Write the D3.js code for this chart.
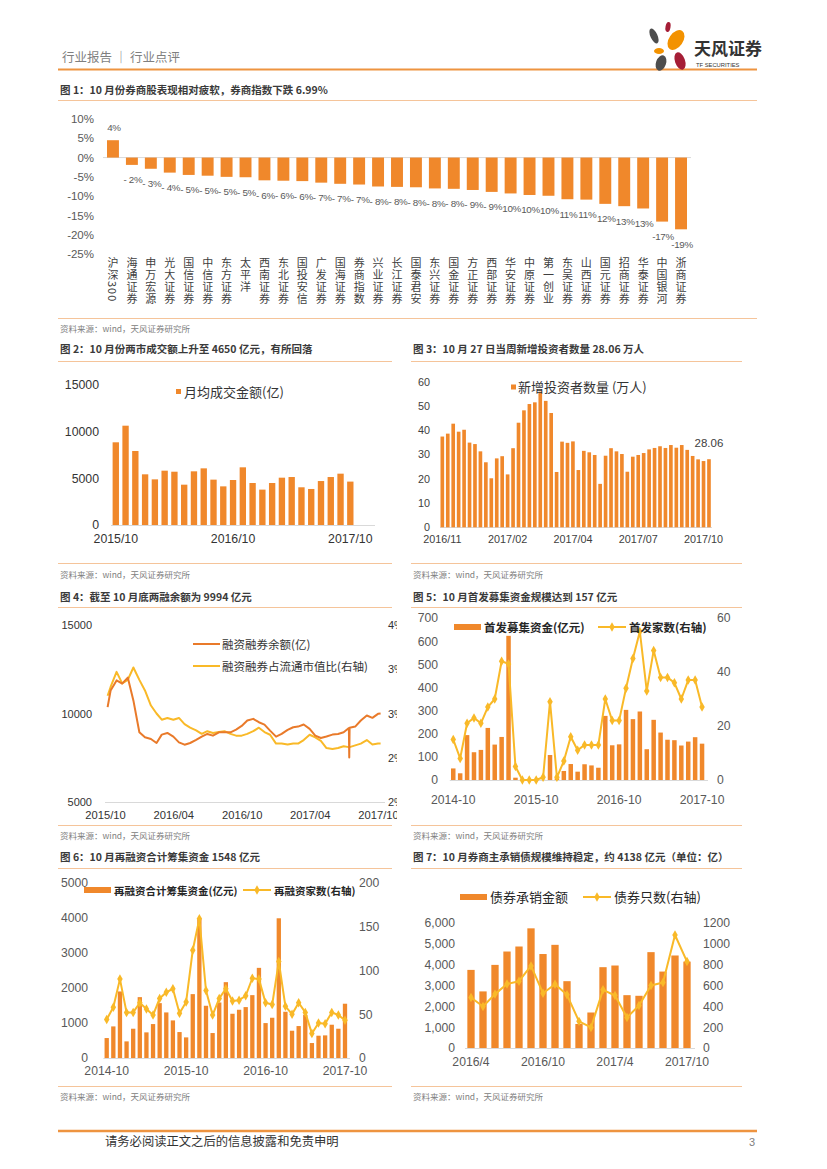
<!DOCTYPE html>
<html>
<head>
<meta charset="utf-8">
<title>行业点评</title>
<script src="https://cdn.jsdelivr.net/npm/d3@7"></script>
<style>
  body { margin: 0; background: #fff; }
  svg { display: block; }
</style>
</head>
<body>
<svg id="page" width="827" height="1169"></svg>
<script>
var NUM = "'Liberation Sans', Arial, sans-serif";
var CN = "'Noto Sans CJK SC', 'Noto Sans', sans-serif";
var ORANGE = '#F0882B', LINE_ORANGE = '#E97A2A', YELLOW = '#F9B928', RULE = '#F5C49A';

// fig 1: October change by broker
var brokers = ['沪深300','海通证券','申万宏源','光大证券','国信证券','中信证券','东方证券','太平洋','西南证券','东北证券',
  '国投安信','广发证券','国海证券','券商指数','兴业证券','长江证券','国泰君安','东兴证券','国金证券','方正证券',
  '西部证券','华安证券','中原证券','第一创业','东吴证券','山西证券','国元证券','招商证券','华泰证券','中国银河','浙商证券'];
var brokerChange = [4.5,-1.9,-2.9,-3.9,-4.5,-4.7,-5.0,-5.1,-5.9,-6.0,-6.1,-6.5,-6.8,-6.99,-7.5,-7.6,-7.7,-8.0,-8.1,-8.4,
  -8.9,-9.3,-9.7,-9.9,-10.8,-10.9,-12.0,-12.6,-13.2,-16.6,-18.6];
var brokerLabels = ['4%','- 2%','- 3%','- 4%','- 5%','- 5%','- 5%','- 5%','- 6%','- 6%','- 6%','- 7%','- 7%','- 7%',
  '- 8%','- 8%','- 8%','- 8%','- 8%','- 9%','- 9%','10%','10%','10%','11%','11%','12%','13%','13%','-17%','-19%'];
var pctTicks = [10,5,0,-5,-10,-15,-20,-25];

// fig 2: monthly average turnover
var turnoverMonths = d3.timeMonth.range(new Date(2015,9,1), new Date(2017,10,1)).map(d3.timeFormat('%Y/%m'));
var turnover = [8860,10640,7930,5430,4890,5820,5710,4320,5750,6070,4860,4140,4820,6180,4500,3790,4500,5070,5140,4040,
  3860,4710,5140,5500,4650];
var turnoverTicks = ['2015/10','2016/10','2017/10'];

// fig 3: weekly new investors
var newInvestors = [37.4,38.6,42.7,39.4,40.2,34.9,34.3,31.3,26.8,20.2,28.4,29.3,21.8,32.6,43.1,48.2,50.8,51.5,55.9,52.1,
  47.1,22.8,35.3,34.8,35.4,23.6,31.5,30.9,29.8,17.9,29.5,32.6,31.3,30.2,22.9,29.1,29.8,30.6,32.1,32.7,
  33.4,32.7,33.9,32.8,33.9,31.9,29.4,28.0,27.3,28.06];
var weekTicks = [[0,'2016/11'],[12,'2017/02'],[24,'2017/04'],[36,'2017/07'],[48,'2017/10']];

// fig 4: margin balance
var marginDates = ['2015-10-08','2015-10-16','2015-11-01','2015-11-16','2015-12-01','2015-12-16',
  '2016-01-01','2016-01-16','2016-02-01','2016-02-16','2016-03-01','2016-03-16',
  '2016-04-01','2016-04-16','2016-05-01','2016-05-16','2016-06-01','2016-06-16',
  '2016-07-01','2016-07-16','2016-08-01','2016-08-16','2016-09-01','2016-09-16',
  '2016-10-01','2016-10-16','2016-11-01','2016-11-16','2016-12-01','2016-12-16',
  '2017-01-01','2017-01-16','2017-02-01','2017-02-16','2017-03-01','2017-03-16',
  '2017-04-01','2017-04-16','2017-05-01','2017-05-16','2017-06-01','2017-06-16',
  '2017-07-01','2017-07-15','2017-07-16','2017-07-17','2017-08-01','2017-08-16',
  '2017-09-01','2017-09-16','2017-10-01','2017-10-08'];
var marginBalance = [10360,11300,11870,11690,12030,10740,
  8940,8655,8560,8333,8807,8900,
  8693,8371,8239,8333,8504,8693,
  8845,8750,8939,8939,8939,9090,
  9299,9602,9697,9508,9375,9034,
  8693,8845,9072,9223,9261,9375,
  9129,8750,8617,8700,8807,8845,
  8939,9180,7520,9200,9261,9602,
  9886,9754,9981,9994];
var marginRatio = [3.20,3.30,3.47,3.34,3.38,3.52,
  3.38,3.26,3.09,3.00,2.93,2.95,
  2.93,2.95,2.88,2.84,2.81,2.77,
  2.80,2.78,2.79,2.80,2.77,2.75,
  2.75,2.77,2.80,2.84,2.79,2.76,
  2.66,2.66,2.65,2.66,2.66,2.70,
  2.76,2.73,2.69,2.61,2.60,2.61,
  2.63,2.62,2.62,2.62,2.64,2.66,
  2.70,2.65,2.66,2.66];
var marginTicks = ['2015-10-01','2016-04-01','2016-10-01','2017-04-01','2017-10-01'];
var ratioTickLabels = ['2%','2%','3%','3%','4%'];

// fig 5: IPO funds and count
var months36 = d3.timeMonth.range(new Date(2014,9,1), new Date(2017,10,1)).map(d3.timeFormat('%Y-%m'));
var ipoFunds = [50,29,194,120,130,225,153,186,623,10,0,0,0,1,108,7,39,69,36,68,
  63,53,277,150,154,303,263,296,133,260,205,174,172,149,166,185,157];
var ipoCount = [15,8,21,23,21,27,30,44,43,5,0,0,0,1,29,1,7,16,11,13,
  13,13,30,22,22,34,45,55,33,48,38,38,36,30,37,37,27];
var yearTicks = ['2014-10','2015-10','2016-10','2017-10'];

// fig 6: refinancing
var refiFunds = [569,901,1898,474,835,1736,731,968,1565,1300,1072,740,588,1822,3960,1490,712,1584,2163,1262,
  1376,1452,1793,2571,996,1148,3985,1319,778,911,1233,427,636,645,949,835,1548];
var refiCount = [44,58,90,52,52,63,56,49,68,75,79,51,64,123,159,77,49,68,79,65,
  66,71,91,90,63,61,110,59,50,63,52,28,40,39,52,49,43];

// fig 7: bond underwriting
var bondMonths = d3.timeMonth.range(new Date(2016,3,1), new Date(2017,10,1)).map(d3.timeFormat('%Y/%-m'));
var bondAmount = [3740,2710,3980,4620,4860,5730,4500,4940,3200,1150,1700,3870,3950,2530,2500,4590,3660,4430,4138];
var bondCount = [484,398,516,614,640,786,525,611,509,255,197,557,503,293,407,598,627,1082,828];
var bondTicks = ['2016/4','2016/10','2017/4','2017/10'];

var svg = d3.select('#page');
var plain = function(d){ return String(d); };

function label(g, x, y, str, size, fill, opts) {
  opts = opts || {};
  return g.append('text').attr('x', x).attr('y', y).text(str)
    .attr('font-size', size).attr('fill', fill)
    .attr('font-family', opts.family || CN)
    .attr('font-weight', opts.weight || 'normal')
    .attr('text-anchor', opts.anchor || 'start');
}

function rule(x1, x2, y, color, w) {
  svg.append('line').attr('x1', x1).attr('x2', x2).attr('y1', y).attr('y2', y)
    .attr('stroke', color).attr('stroke-width', w);
}

function tidy(g, size, fill) {
  g.select('.domain').remove();
  g.selectAll('.tick line').remove();
  g.selectAll('text').attr('font-size', size).attr('fill', fill).attr('font-family', NUM);
}

function figTitle(x, y, str) { label(svg, x, y, str, 10.5, '#3a3a3a', {weight: 'bold'}); }
function source(x, y) { label(svg, x, y, '资料来源：wind，天风证券研究所', 8.5, '#808080'); }

function diamond(g, cx, cy, color) {
  g.append('path').attr('d', d3.symbol(d3.symbolDiamond, 26)())
    .attr('transform', 'translate(' + cx + ',' + cy + ')').attr('fill', color);
}

// ---------- page header ----------
label(svg, 62, 62, '行业报告 ｜ 行业点评', 12.5, '#7f7f7f');
rule(58, 757, 69.5, '#EE9440', 2);
var logo = svg.append('g');
[[654,36,3.5,8,-25,'#4d4d4d'],[676,40,7,11,35,'#F39200'],[659,51,5,3,0,'#F39200'],
 [661,63,5,8,20,'#4d4d4d'],[680,61,5,9,-20,'#A51E36'],[668,27,2.5,5,10,'#A51E36']].forEach(function(p){
  logo.append('ellipse').attr('rx', p[2]).attr('ry', p[3]).attr('fill', p[5])
    .attr('transform', 'translate(' + p[0] + ',' + p[1] + ') rotate(' + p[4] + ')');
});
label(svg, 694, 55, '天风证券', 17, '#333', {weight: 'bold'});
label(svg, 696, 66.5, 'TF SECURITIES', 5.8, '#333', {family: NUM});

// ---------- fig 1 ----------
figTitle(60, 94, '图 1：10 月份券商股表现相对疲软，券商指数下跌 6.99%');
rule(58, 757, 100.5, RULE, 1);
(function(){
  var g = svg.append('g');
  var x = d3.scaleBand().domain(brokers).range([103.5, 690.5]).paddingInner(0.37).paddingOuter(0.185);
  var y = d3.scaleLinear().domain([-25, 10]).range([254, 119]);
  g.append('line').attr('x1', 103).attr('x2', 691).attr('y1', y(0)).attr('y2', y(0)).attr('stroke', '#d9d9d9');
  g.selectAll('rect.bar').data(brokerChange).join('rect').attr('class', 'bar')
    .attr('x', function(d, i){ return x(brokers[i]); }).attr('width', x.bandwidth())
    .attr('y', function(d){ return y(Math.max(0, d)); })
    .attr('height', function(d){ return Math.abs(y(d) - y(0)); })
    .attr('fill', ORANGE);
  g.selectAll('text.val').data(brokerChange).join('text').attr('class', 'val')
    .attr('x', function(d, i){ return x(brokers[i]) + x.bandwidth() / 2 + 1; })
    .attr('y', function(d){ return d >= 0 ? y(d) - 9 : y(d) + 18.5; })
    .attr('text-anchor', 'middle').attr('font-size', 9.8).attr('fill', '#595959').attr('font-family', NUM)
    .attr('letter-spacing', -0.3)
    .text(function(d, i){ return brokerLabels[i]; });
  var ax = g.append('g').attr('transform', 'translate(94,0)')
    .call(d3.axisLeft(y).tickValues(pctTicks).tickSize(0).tickPadding(0).tickFormat(function(d){ return d + '%'; }));
  tidy(ax, 11.5, '#595959');
  g.selectAll('text.cat').data(brokers).join('text').attr('class', 'cat')
    .attr('x', function(d){ return x(d) + x.bandwidth() / 2; }).attr('y', 257)
    .attr('writing-mode', 'vertical-rl').attr('font-size', 11).attr('letter-spacing', 1)
    .attr('fill', '#404040').attr('font-family', CN)
    .text(function(d){ return d; });
})();
rule(58, 757, 318.5, RULE, 1);
source(60, 332);

// ---------- fig 2 ----------
figTitle(60, 353, '图 2：10 月份两市成交额上升至 4650 亿元，有所回落');
rule(58, 392, 361.5, RULE, 1);
(function(){
  var g = svg.append('g');
  var x = d3.scaleBand().domain(turnoverMonths).range([110.9, 355.2]).paddingInner(0.35).paddingOuter(0.175);
  var y = d3.scaleLinear().domain([0, 15000]).range([525, 385]);
  g.append('line').attr('x1', 111).attr('x2', 375).attr('y1', 525.5).attr('y2', 525.5).attr('stroke', '#d9d9d9');
  g.selectAll('rect').data(turnover).join('rect')
    .attr('x', function(d, i){ return x(turnoverMonths[i]); }).attr('width', x.bandwidth())
    .attr('y', function(d){ return y(d); }).attr('height', function(d){ return y(0) - y(d); })
    .attr('fill', ORANGE);
  var ay = g.append('g').attr('transform', 'translate(99,0)')
    .call(d3.axisLeft(y).tickValues([0, 5000, 10000, 15000]).tickSize(0).tickPadding(0).tickFormat(plain));
  tidy(ay, 12.3, '#333');
  var ax = g.append('g').attr('transform', 'translate(0,525)')
    .call(d3.axisBottom(x).tickValues(turnoverTicks).tickSize(0).tickPadding(9.5));
  tidy(ax, 12.3, '#333');
  g.append('rect').attr('x', 176).attr('y', 389).attr('width', 5).attr('height', 5).attr('fill', ORANGE);
  label(g, 184, 396.5, '月均成交金额(亿)', 13, '#333');
})();
rule(58, 392, 563.5, RULE, 1);
source(60, 578);

// ---------- fig 3 ----------
figTitle(413, 353, '图 3：10 月 27 日当周新增投资者数量 28.06 万人');
rule(411, 742, 361.5, RULE, 1);
(function(){
  var g = svg.append('g');
  var idx = d3.range(newInvestors.length);
  var x = d3.scaleBand().domain(idx).range([439.6, 711.7]).paddingInner(0.33).paddingOuter(0.165);
  var y = d3.scaleLinear().domain([0, 60]).range([527.3, 381.7]);
  g.append('line').attr('x1', 440).attr('x2', 712).attr('y1', 527.5).attr('y2', 527.5).attr('stroke', '#d9d9d9');
  g.selectAll('rect').data(newInvestors).join('rect')
    .attr('x', function(d, i){ return x(i); }).attr('width', x.bandwidth())
    .attr('y', function(d){ return y(d); }).attr('height', function(d){ return y(0) - y(d); })
    .attr('fill', ORANGE);
  var ay = g.append('g').attr('transform', 'translate(430,0)')
    .call(d3.axisLeft(y).tickValues([0, 10, 20, 30, 40, 50, 60]).tickSize(0).tickPadding(0));
  tidy(ay, 10.8, '#404040');
  var ax = g.append('g').attr('transform', 'translate(0,527)')
    .call(d3.axisBottom(x).tickValues(weekTicks.map(function(t){ return t[0]; })).tickSize(0).tickPadding(8.5)
      .tickFormat(function(d){ return weekTicks.find(function(t){ return t[0] === d; })[1]; }));
  tidy(ax, 10.8, '#404040');
  var last = newInvestors.length - 1;
  label(g, x(last) + x.bandwidth() / 2, y(newInvestors[last]) - 12, newInvestors[last].toFixed(2), 11.5, '#404040',
    {family: NUM, anchor: 'middle'});
  g.append('rect').attr('x', 511).attr('y', 384.5).attr('width', 5).attr('height', 5).attr('fill', ORANGE);
  label(g, 518, 392, '新增投资者数量 (万人)', 13, '#333');
})();
rule(411, 742, 563.5, RULE, 1);
source(413, 578);

// ---------- fig 4 ----------
figTitle(60, 601, '图 4：截至 10 月底两融余额为 9994 亿元');
rule(58, 392, 607.5, RULE, 1);
(function(){
  svg.append('clipPath').attr('id', 'clip4').append('rect').attr('x', 50).attr('y', 610).attr('width', 347).attr('height', 220);
  var g = svg.append('g').attr('clip-path', 'url(#clip4)');
  var parse = d3.timeParse('%Y-%m-%d');
  var pts = marginDates.map(function(d, i){ return {date: parse(d), bal: marginBalance[i], ratio: marginRatio[i]}; });
  var x = d3.scaleTime().domain([parse('2015-10-01'), parse('2017-10-01')]).range([105, 378]);
  var yL = d3.scaleLinear().domain([5000, 15000]).range([802, 625]);
  var yR = d3.scaleLinear().domain([2, 4]).range([802, 625]);
  g.append('line').attr('x1', 105).attr('x2', 385).attr('y1', 802.5).attr('y2', 802.5).attr('stroke', '#d9d9d9');
  g.append('path').datum(pts).attr('fill', 'none').attr('stroke', YELLOW).attr('stroke-width', 2)
    .attr('stroke-linejoin', 'round')
    .attr('d', d3.line().x(function(d){ return x(d.date); }).y(function(d){ return yR(d.ratio); }));
  g.append('path').datum(pts).attr('fill', 'none').attr('stroke', LINE_ORANGE).attr('stroke-width', 2)
    .attr('stroke-linejoin', 'round')
    .attr('d', d3.line().x(function(d){ return x(d.date); }).y(function(d){ return yL(d.bal); }));
  var ay = g.append('g').attr('transform', 'translate(92,0)')
    .call(d3.axisLeft(yL).tickValues([5000, 10000, 15000]).tickSize(0).tickPadding(0).tickFormat(plain));
  tidy(ay, 11, '#333');
  var ar = g.append('g').attr('transform', 'translate(388,0)')
    .call(d3.axisRight(yR).tickValues([2, 2.5, 3, 3.5, 4]).tickSize(0).tickPadding(0)
      .tickFormat(function(d, i){ return ratioTickLabels[i]; }));
  tidy(ar, 11, '#333');
  var ax = g.append('g').attr('transform', 'translate(0,802)')
    .call(d3.axisBottom(x).tickValues(marginTicks.map(parse)).tickSize(0).tickPadding(9.5)
      .tickFormat(d3.timeFormat('%Y/%m')));
  tidy(ax, 11.2, '#333');
  g.append('line').attr('x1', 193).attr('x2', 220).attr('y1', 644).attr('y2', 644).attr('stroke', LINE_ORANGE).attr('stroke-width', 2);
  label(g, 222, 648.5, '融资融券余额(亿)', 11.5, '#333');
  g.append('line').attr('x1', 193).attr('x2', 220).attr('y1', 666).attr('y2', 666).attr('stroke', YELLOW).attr('stroke-width', 2);
  label(g, 222, 670.5, '融资融券占流通市值比(右轴)', 11.5, '#333');
})();
rule(58, 392, 825.5, RULE, 1);
source(60, 839);

// combo chart: bars on left axis, diamond line on right axis
function combo(cfg) {
  var g = svg.append('g');
  var x = d3.scaleBand().domain(cfg.cats).range(cfg.xr).paddingInner(cfg.pad).paddingOuter(cfg.pad / 2);
  var yL = d3.scaleLinear().domain(cfg.left).range(cfg.yr);
  var yR = d3.scaleLinear().domain(cfg.right).range(cfg.yr);
  g.append('line').attr('x1', cfg.xr[0]).attr('x2', cfg.axisEnd).attr('y1', cfg.yr[0] + 0.5).attr('y2', cfg.yr[0] + 0.5)
    .attr('stroke', '#d9d9d9');
  g.selectAll('rect').data(cfg.bars).join('rect')
    .attr('x', function(d, i){ return x(cfg.cats[i]); }).attr('width', x.bandwidth())
    .attr('y', function(d){ return yL(d); }).attr('height', function(d){ return yL(0) - yL(d); })
    .attr('fill', ORANGE);
  var cx = function(d, i){ return x(cfg.cats[i]) + x.bandwidth() / 2; };
  g.append('path').datum(cfg.line).attr('fill', 'none').attr('stroke', YELLOW).attr('stroke-width', 2)
    .attr('stroke-linejoin', 'round')
    .attr('d', d3.line().x(cx).y(function(d){ return yR(d); }));
  cfg.line.forEach(function(d, i){ diamond(g, cx(d, i), yR(d), YELLOW); });
  var ay = g.append('g').attr('transform', 'translate(' + cfg.leftX + ',0)')
    .call(d3.axisLeft(yL).tickValues(cfg.leftTicks).tickSize(0).tickPadding(0).tickFormat(cfg.leftFmt || plain));
  tidy(ay, 12.2, '#595959');
  var ar = g.append('g').attr('transform', 'translate(' + cfg.rightX + ',0)')
    .call(d3.axisRight(yR).tickValues(cfg.rightTicks).tickSize(0).tickPadding(0).tickFormat(plain));
  tidy(ar, 12.2, '#595959');
  var ax = g.append('g').attr('transform', 'translate(0,' + cfg.yr[0] + ')')
    .call(d3.axisBottom(x).tickValues(cfg.xTicks).tickSize(0).tickPadding(cfg.xPad));
  tidy(ax, 12.2, '#595959');
  var L = cfg.legend;
  g.append('rect').attr('x', L.x).attr('y', L.y - 3).attr('width', 27).attr('height', 6).attr('fill', ORANGE);
  label(g, L.x + 30, L.y + 4.5, L.bar, L.size, '#262626', {weight: L.weight});
  g.append('line').attr('x1', L.x2).attr('x2', L.x2 + 28).attr('y1', L.y).attr('y2', L.y).attr('stroke', YELLOW).attr('stroke-width', 2);
  diamond(g, L.x2 + 14, L.y, YELLOW);
  label(g, L.x2 + 31, L.y + 4.5, L.line, L.size, '#262626', {weight: L.weight});
}

// ---------- fig 5 ----------
figTitle(413, 601, '图 5：10 月首发募集资金规模达到 157 亿元');
rule(411, 742, 607.5, RULE, 1);
combo({cats: months36, bars: ipoFunds, line: ipoCount, xr: [449.8, 705.5], pad: 0.35, axisEnd: 708,
  left: [0, 700], right: [0, 60], yr: [780, 618], leftX: 438, rightX: 717,
  leftTicks: d3.range(0, 701, 100), rightTicks: [0, 20, 40, 60], xTicks: yearTicks, xPad: 15.5,
  legend: {x: 454, y: 627, x2: 598, bar: '首发募集资金(亿元)', line: '首发家数(右轴)', size: 11.5, weight: 'bold'}});
rule(411, 742, 825.5, RULE, 1);
source(413, 839);

// ---------- fig 6 ----------
figTitle(60, 861, '图 6：10 月再融资合计筹集资金 1548 亿元');
rule(58, 392, 868.5, RULE, 1);
combo({cats: months36, bars: refiFunds, line: refiCount, xr: [103.4, 348.3], pad: 0.35, axisEnd: 350,
  left: [0, 5000], right: [0, 200], yr: [1058, 882.7], leftX: 88, rightX: 359,
  leftTicks: d3.range(0, 5001, 1000), rightTicks: d3.range(0, 201, 50), xTicks: yearTicks, xPad: 8.5,
  legend: {x: 84, y: 890, x2: 243, bar: '再融资合计筹集资金(亿元)', line: '再融资家数(右轴)', size: 10.5, weight: 'bold'}});
rule(58, 392, 1086.5, RULE, 1);
source(60, 1100);

// ---------- fig 7 ----------
figTitle(413, 861, '图 7：10 月券商主承销债规模维持稳定，约 4138 亿元（单位：亿）');
rule(411, 742, 868.5, RULE, 1);
combo({cats: bondMonths, bars: bondAmount, line: bondCount, xr: [465, 693], pad: 0.39, axisEnd: 695,
  left: [0, 6000], right: [0, 1200], yr: [1048, 922.7], leftX: 455, rightX: 703,
  leftTicks: d3.range(0, 6001, 1000), rightTicks: d3.range(0, 1201, 200), leftFmt: d3.format(','),
  xTicks: bondTicks, xPad: 9.5,
  legend: {x: 460, y: 897, x2: 583, bar: '债券承销金额', line: '债券只数(右轴)', size: 13, weight: 'normal'}});
rule(411, 742, 1086.5, RULE, 1);
source(413, 1100);

// ---------- footer ----------
rule(58, 757, 1131, '#EE9440', 2.5);
label(svg, 105, 1146, '请务必阅读正文之后的信息披露和免责申明', 12.3, '#333');
label(svg, 755, 1146, '3', 11, '#808080', {family: NUM, anchor: 'end'});
</script>
</body>
</html>
